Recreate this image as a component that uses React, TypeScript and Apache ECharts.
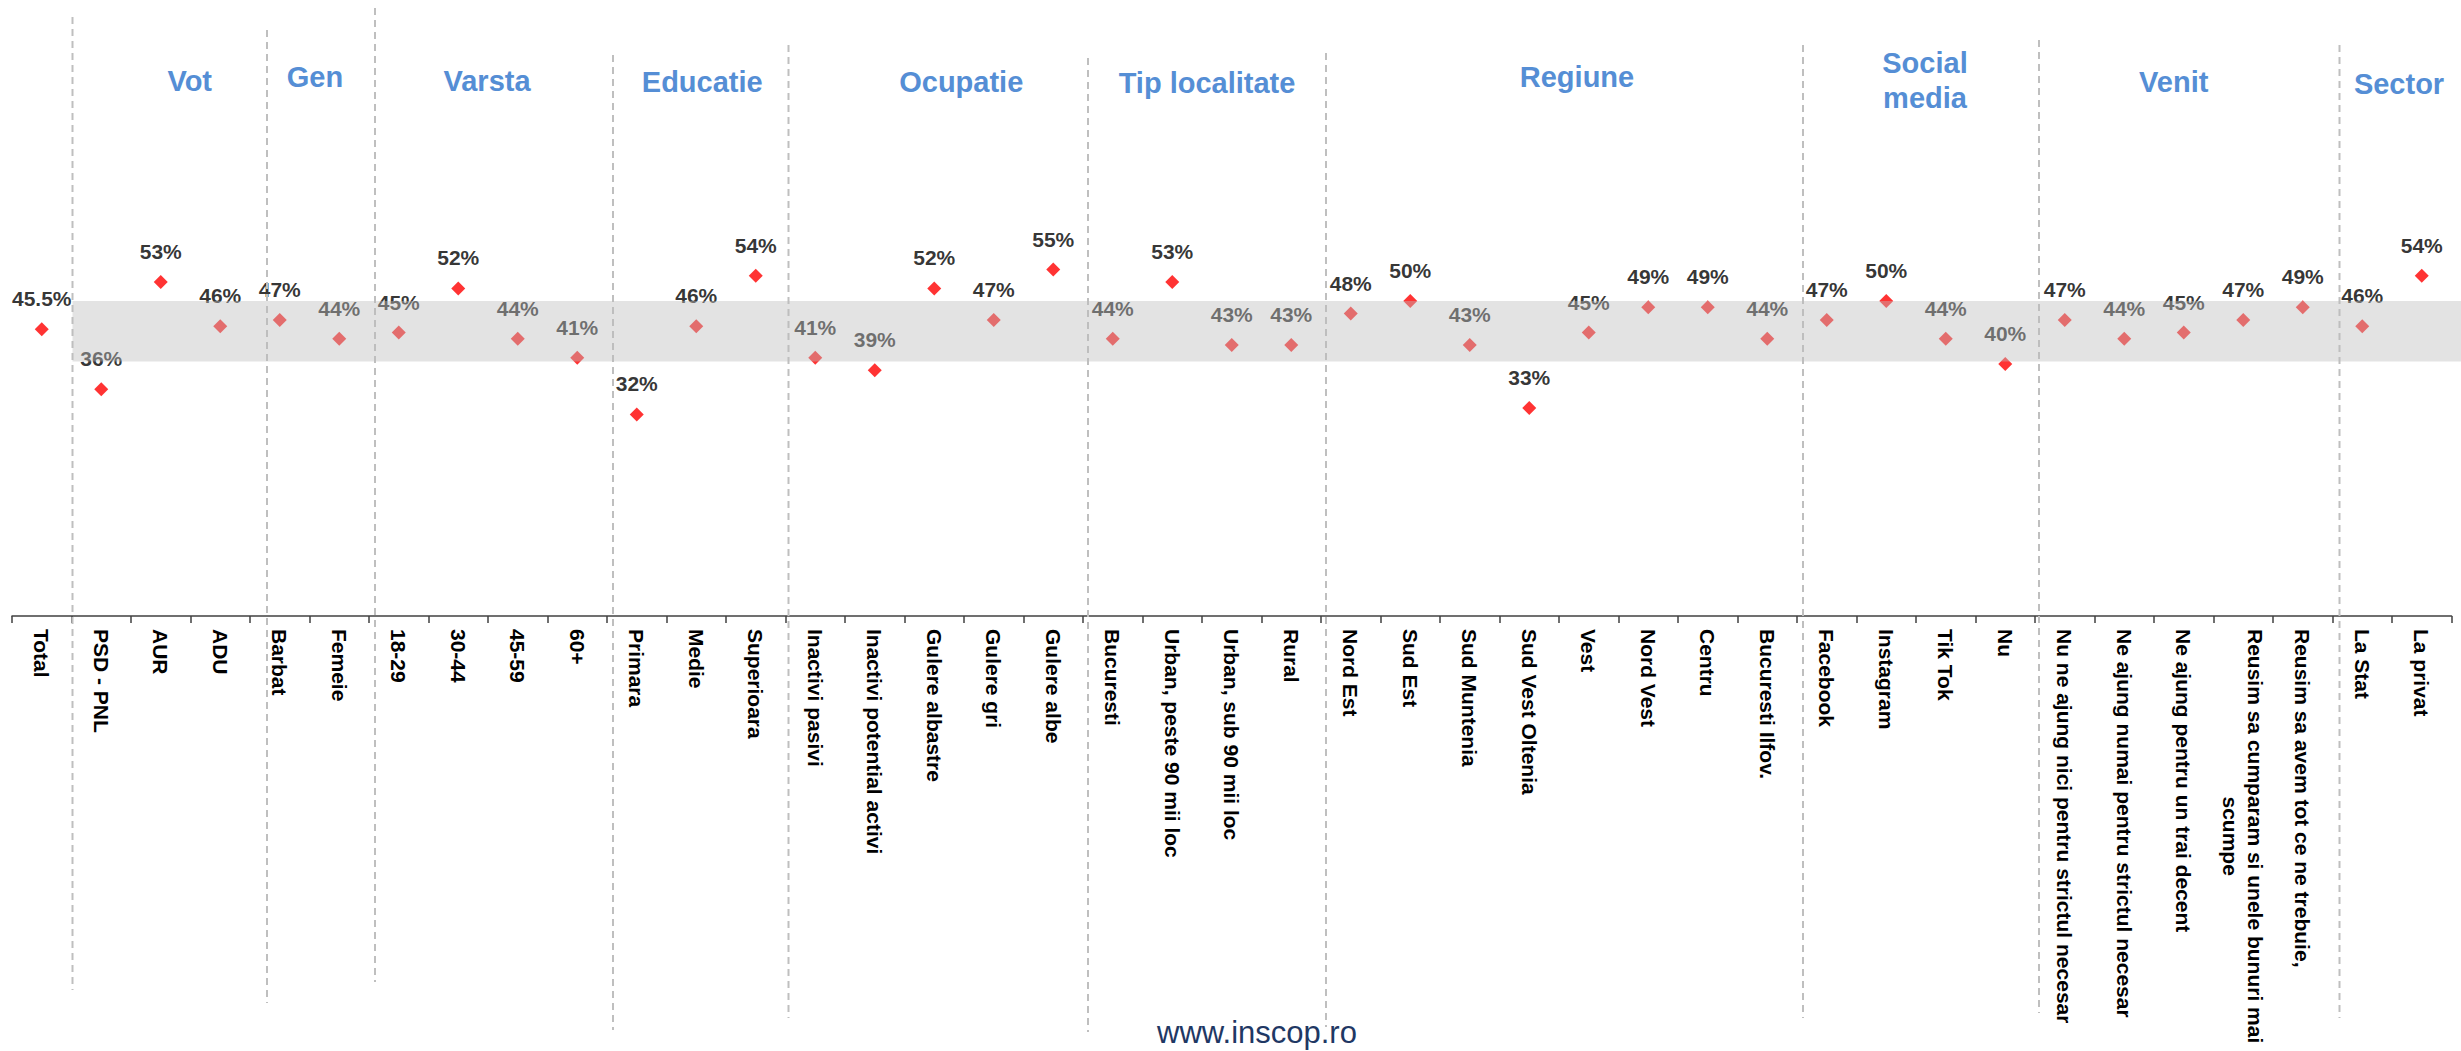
import React, { useEffect, useRef } from "react";
import * as echarts from "echarts";

// ---------- data ----------
const categories: string[] = [
  "Total",
  "PSD - PNL", "AUR", "ADU",
  "Barbat", "Femeie",
  "18-29", "30-44", "45-59", "60+",
  "Primara", "Medie", "Superioara",
  "Inactivi pasivi", "Inactivi potential activi", "Gulere albastre", "Gulere gri", "Gulere albe",
  "Bucuresti", "Urban, peste 90 mii loc", "Urban, sub 90 mii loc", "Rural",
  "Nord Est", "Sud Est", "Sud Muntenia", "Sud Vest Oltenia", "Vest", "Nord Vest", "Centru", "Bucuresti Ilfov.",
  "Facebook", "Instagram", "Tik Tok", "Nu",
  "Nu ne ajung nici pentru strictul necesar", "Ne ajung numai pentru strictul necesar",
  "Ne ajung pentru un trai decent", "Reusim sa cumparam si unele bunuri mai scumpe",
  "Reusim sa avem tot ce ne trebuie,",
  "La Stat", "La privat",
];

const values: number[] = [
  45.5,
  36, 53, 46,
  47, 44,
  45, 52, 44, 41,
  32, 46, 54,
  41, 39, 52, 47, 55,
  44, 53, 43, 43,
  48, 50, 43, 33, 45, 49, 49, 44,
  47, 50, 44, 40,
  47, 44, 45, 47, 49,
  46, 54,
];

const groupNames: string[] = [
  "Vot", "Gen", "Varsta", "Educatie", "Ocupatie", "Tip localitate",
  "Regiune", "Social media", "Venit", "Sector",
];
const groupSizes: number[] = [3, 2, 4, 3, 5, 4, 8, 4, 5, 2];

// interval band around the total (low, high)
const bandRange: number[] = [40.4, 50.0];

const siteText = "www.inscop.ro";

// ---------- layout (pixels / styles only) ----------
const W = 2461;
const H = 1051;
const FONT = "'Liberation Sans', Arial, Helvetica, sans-serif";
const titleDx = [29, 5.5, -1, 6, 27, 5, 18, 9, -10, 7];
const titleMidY = [80.7, 77, 80.7, 82, 82, 83, 77, 80.5, 82, 84];
const sepDx = [1, 17, 6, 6, 3, 5, 5, 6, 4, 7];
const sepTop = [17, 30, 8, 55, 45, 58, 53, 45, 40, 45];
const sepBottom = [990, 1003, 982, 1030, 1018, 1032, 1027, 1018, 1013, 1018];

function wrapLabel(v: string): string {
  const maxLen = 40;
  if (v.length <= maxLen + 2) return v;
  const words = v.split(" ");
  const lines: string[] = [];
  let cur = "";
  for (const w of words) {
    const next = cur ? cur + " " + w : w;
    if (next.length > maxLen && cur) {
      lines.push(cur);
      cur = w;
    } else {
      cur = next;
    }
  }
  if (cur) lines.push(cur);
  return lines.map((l) => `{c|${l}}`).join("\n");
}

export default function App() {
  const ref = useRef<HTMLDivElement>(null);

  useEffect(() => {
    document.body.style.margin = "0";
    document.body.style.overflow = "hidden";
    if (!ref.current) return;
    const chart = echarts.init(ref.current, null, { renderer: "svg" });

    chart.setOption({
      animation: false,
      backgroundColor: "#ffffff",
      grid: { left: 12, right: 9.5, top: 112, bottom: 435, containLabel: false },
      xAxis: {
        type: "category",
        data: categories,
        boundaryGap: true,
        axisLine: { show: true, lineStyle: { color: "#404040", width: 1.5 } },
        axisTick: { show: true, length: 7, lineStyle: { color: "#404040", width: 1.5 } },
        axisLabel: {
          interval: 0,
          rotate: -90,
          margin: 13,
          color: "#000000",
          fontSize: 21,
          fontWeight: "bold",
          fontFamily: FONT,
          formatter: (v: string) => wrapLabel(v),
          rich: {
            c: {
              align: "center",
              color: "#000000",
              fontSize: 21,
              fontWeight: "bold",
              fontFamily: FONT,
              lineHeight: 25,
            },
          },
        },
        splitLine: { show: false },
      },
      yAxis: {
        type: "value",
        min: 0,
        max: 80,
        show: false,
        splitLine: { show: false },
      },
      series: [
        {
          type: "scatter",
          data: values,
          symbol: "diamond",
          symbolSize: 14,
          z: 3,
          itemStyle: { color: "#FF0000" },
          label: {
            show: true,
            position: "top",
            distance: 13,
            formatter: (p: any) => `${p.value}%`,
            color: "#000000",
            fontSize: 21,
            fontWeight: "bold",
            fontFamily: FONT,
          },
        },
      ],
    });

    const cx = (i: number) => chart.convertToPixel({ xAxisIndex: 0 }, categories[i]) as number;
    const py = (v: number) => chart.convertToPixel({ yAxisIndex: 0 }, v) as number;
    const step = cx(1) - cx(0);
    const boundary = (k: number) => cx(0) - step / 2 + k * step;

    const graphics: any[] = [];

    // separators between groups
    const sepIdx: number[] = [];
    let start = 1;
    sepIdx.push(start);
    groupSizes.forEach((s, gi) => {
      start += s;
      if (gi < groupSizes.length - 1) sepIdx.push(start);
    });
    sepIdx.forEach((k, i) => {
      const x = boundary(k) + sepDx[i];
      graphics.push({
        type: "line",
        z: 50,
        silent: true,
        shape: { x1: x, y1: sepTop[i], x2: x, y2: sepBottom[i] },
        style: { stroke: "#BFBFBF", lineWidth: 2, lineDash: [7, 5] },
      });
    });

    // group titles
    let gStart = 1;
    groupNames.forEach((name, gi) => {
      const size = groupSizes[gi];
      const x = boundary(gStart) + (size * step) / 2 + titleDx[gi];
      gStart += size;
      const text = name === "Social media" ? "Social\nmedia" : name;
      graphics.push({
        type: "text",
        z: 60,
        silent: true,
        x,
        y: titleMidY[gi],
        style: {
          text,
          align: "center",
          verticalAlign: "middle",
          fill: "#558ED5",
          fontSize: 29,
          fontWeight: "bold",
          fontFamily: FONT,
          lineHeight: 35,
        },
      });
    });

    // interval band (semi-transparent, drawn over the points)
    const bandX = boundary(1) + sepDx[0];
    const yHi = py(bandRange[1]);
    const yLo = py(bandRange[0]);
    graphics.push({
      type: "rect",
      z: 100,
      silent: true,
      shape: { x: bandX, y: yHi, width: W - bandX, height: yLo - yHi },
      style: { fill: "rgba(189,189,189,0.424)" },
    });

    // footer
    graphics.push({
      type: "text",
      z: 60,
      silent: true,
      x: 1257,
      y: 1032,
      style: {
        text: siteText,
        align: "center",
        verticalAlign: "middle",
        fill: "#1F3864",
        fontSize: 31,
        fontFamily: FONT,
      },
    });

    chart.setOption({ graphic: graphics });

    return () => {
      chart.dispose();
    };
  }, []);

  return <div ref={ref} style={{ width: W, height: H }} />;
}
